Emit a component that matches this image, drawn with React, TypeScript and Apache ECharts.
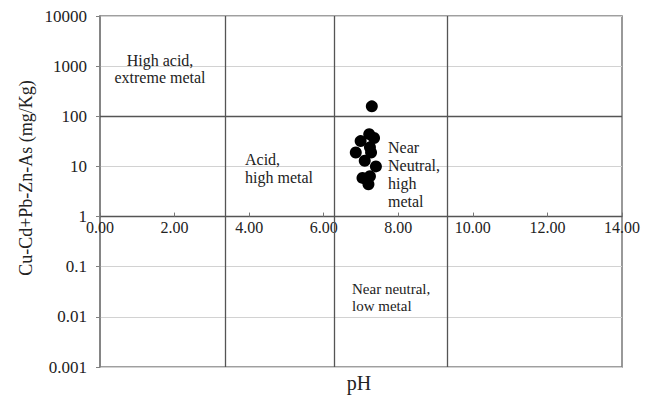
import React, { useEffect, useRef } from "react";
import * as echarts from "echarts";

// pH and Cu-Cd+Pb-Zn-As (mg/Kg)
const phValues = [7.29, 7.22, 7.35, 6.99, 7.24, 6.86, 7.27, 7.1, 7.4, 7.24, 7.04, 7.2];
const metalValues = [158, 44, 37, 32, 24, 19, 19, 13, 10, 6.4, 5.9, 4.4];

// Ficklin-style region boundaries
const phBoundaries = [3.35, 6.27, 9.32];
const metalBoundary = 100;

const xMin = 0;
const xMax = 14;
const xInterval = 2;
const yMin = 0.001;
const yMax = 10000;
const yTickLabels = ["0.001", "0.01", "0.1", "1", "10", "100", "1000", "10000"];

const regionLabels = [
  { lines: ["High acid,", "extreme metal"], x: 160, y: 60, align: "center", size: 16, lh: 17 },
  { lines: ["Acid,", "high metal"], x: 245, y: 159, align: "left", size: 16, lh: 18 },
  { lines: ["Near", "Neutral,", "high", "metal"], x: 388, y: 147, align: "left", size: 16, lh: 18.3 },
  { lines: ["Near neutral,", "low metal"], x: 352, y: 289, align: "left", size: 15, lh: 17 },
];

const FONT = "Liberation Serif";

export default function App() {
  const ref = useRef<HTMLDivElement>(null);

  useEffect(() => {
    if (!ref.current) return;
    const chart = echarts.init(ref.current, undefined, { renderer: "svg" });
    const gridTop = 16;
    const gridBottom = 28;
    const gridHeight = 395 - gridTop - gridBottom;
    const decades = Math.log10(yMax) - Math.log10(yMin);
    const xAxisOffset = -gridHeight * (Math.log10(1) - Math.log10(yMin)) / decades;

    const points = phValues.map((p, i) => [p, metalValues[i]]);

    const textEls: any[] = [];
    regionLabels.forEach((r) => {
      r.lines.forEach((line, i) => {
        textEls.push({
          type: "text",
          x: r.x,
          y: r.y + i * r.lh,
          z: 10,
          style: {
            text: line,
            fontFamily: FONT,
            fontSize: r.size,
            fill: "#222222",
            align: r.align,
            verticalAlign: "middle",
          },
        });
      });
    });

    chart.setOption({
      animation: false,
      backgroundColor: "#ffffff",
      textStyle: { fontFamily: FONT },
      grid: {
        left: 100,
        right: 24,
        top: gridTop,
        bottom: gridBottom,
        show: true,
        borderColor: "#808080",
        borderWidth: 1.6,
        backgroundColor: "transparent",
      },
      xAxis: {
        type: "value",
        min: xMin,
        max: xMax,
        interval: xInterval,
        position: "bottom",
        offset: xAxisOffset,
        axisLine: { show: true, lineStyle: { color: "#555555", width: 1.3 } },
        axisTick: { show: true, inside: true, length: 4, lineStyle: { color: "#777777" } },
        axisLabel: {
          show: true,
          margin: 3,
          fontFamily: FONT,
          fontSize: 16,
          color: "#222222",
          formatter: (v: number) => v.toFixed(2),
        },
        splitLine: { show: false },
      },
      yAxis: {
        type: "log",
        logBase: 10,
        min: yMin,
        max: yMax,
        axisLine: { show: true, lineStyle: { color: "#808080", width: 1.6 } },
        axisTick: { show: true, inside: false, length: 4, lineStyle: { color: "#808080" } },
        axisLabel: {
          margin: 13,
          fontFamily: FONT,
          fontSize: 17,
          color: "#222222",
          formatter: (v: number) => yTickLabels[Math.round(Math.log10(v) - Math.log10(yMin))],
        },
        splitLine: { show: true, lineStyle: { color: "#d2d2d2", width: 1.2 } },
        minorTick: { show: false },
      },
      series: [
        {
          type: "scatter",
          data: points,
          symbol: "circle",
          symbolSize: 12,
          itemStyle: { color: "#000000", opacity: 1 },
          markLine: {
            silent: true,
            symbol: "none",
            label: { show: false },
            lineStyle: { color: "#555555", width: 1.3, type: "solid" },
            data: [
              ...phBoundaries.map((p) => ({ xAxis: p })),
              { yAxis: metalBoundary },
            ],
          },
          z: 5,
        },
      ],
      graphic: [
        ...textEls,
        {
          type: "text",
          x: 26,
          y: 178,
          rotation: Math.PI / 2,
          style: {
            text: "Cu-Cd+Pb-Zn-As (mg/Kg)",
            fontFamily: FONT,
            fontSize: 18,
            fill: "#222222",
            align: "center",
            verticalAlign: "middle",
          },
        },
        {
          type: "text",
          x: 359,
          y: 383,
          style: {
            text: "pH",
            fontFamily: FONT,
            fontSize: 20,
            fill: "#222222",
            align: "center",
            verticalAlign: "middle",
          },
        },
      ],
    });

    return () => chart.dispose();
  }, []);

  return (
    <div
      ref={ref}
      style={{ position: "fixed", left: 0, top: 0, width: 646, height: 395, background: "#fff" }}
    />
  );
}
